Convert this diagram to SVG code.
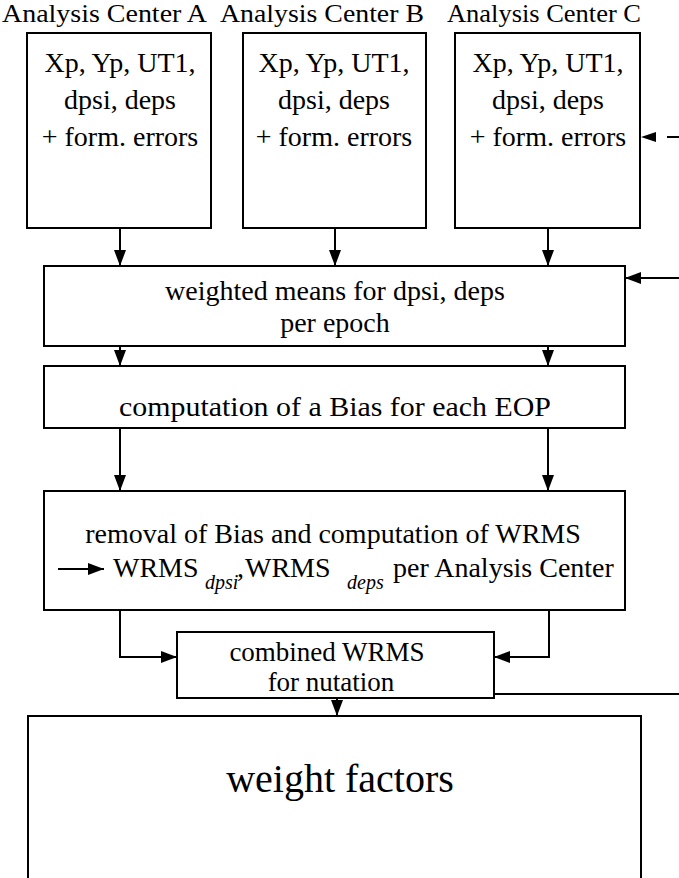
<svg xmlns="http://www.w3.org/2000/svg" width="679" height="878" viewBox="0 0 679 878">
<style>
text{font-family:"Liberation Serif","Times New Roman",serif;fill:#000}
.box{fill:#fff;stroke:#000;stroke-width:2}
.t{font-size:28px;text-anchor:middle}
.title{font-size:25px}
.sub{font-size:20px;font-style:italic}
.ln{fill:none;stroke:#000;stroke-width:2}
</style>
<defs>
<marker id="ah" viewBox="0 0 16 12" refX="16" refY="6" markerWidth="16" markerHeight="12" markerUnits="userSpaceOnUse" orient="auto">
<path d="M0,0 L16,6 L0,12 z" fill="#000"/>
</marker>
</defs>
<rect width="679" height="878" fill="#fff"/>

<g id="acA">
<text class="title" x="2" y="22" textLength="205" lengthAdjust="spacingAndGlyphs">Analysis Center A</text>
<rect class="box" x="27" y="33" width="184" height="195"/>
<text class="t" x="120" y="72">Xp, Yp, UT1,</text>
<text class="t" x="120" y="109">dpsi, deps</text>
<text class="t" x="120" y="146">+ form. errors</text>
</g>
<g id="acB">
<text class="title" x="220" y="22" textLength="204" lengthAdjust="spacingAndGlyphs">Analysis Center B</text>
<rect class="box" x="243" y="33" width="183" height="195"/>
<text class="t" x="334" y="72">Xp, Yp, UT1,</text>
<text class="t" x="334" y="109">dpsi, deps</text>
<text class="t" x="334" y="146">+ form. errors</text>
</g>
<g id="acC">
<text class="title" x="447" y="22" textLength="194" lengthAdjust="spacingAndGlyphs">Analysis Center C</text>
<rect class="box" x="455" y="33" width="185" height="195"/>
<text class="t" x="548" y="72">Xp, Yp, UT1,</text>
<text class="t" x="548" y="109">dpsi, deps</text>
<text class="t" x="548" y="146">+ form. errors</text>
</g>
<g id="weighted">
<rect class="box" x="44" y="266" width="581" height="80"/>
<text class="t" x="335" y="300">weighted means for dpsi, deps</text>
<text class="t" x="335" y="332">per epoch</text>
</g>
<g id="bias">
<rect class="box" x="44" y="366" width="581" height="62"/>
<text class="t" x="335" y="416" textLength="432" lengthAdjust="spacingAndGlyphs">computation of a Bias for each EOP</text>
</g>
<g id="removal">
<rect class="box" x="44" y="491" width="581" height="119"/>
<text class="t" x="333" y="543">removal of Bias and computation of WRMS</text>
<line class="ln" x1="58" y1="569" x2="104" y2="569" marker-end="url(#ah)"/>
<text style="font-size:28px"><tspan x="113" y="577">WRMS</tspan><tspan class="sub" x="205" y="589">dpsi</tspan><tspan x="237" y="577">,</tspan><tspan x="245" y="577">WRMS</tspan><tspan class="sub" x="347" y="589">deps</tspan><tspan x="393" y="577">per Analysis Center</tspan></text>
</g>
<g id="combined">
<rect class="box" x="177" y="632" width="317" height="66"/>
<text class="t" x="327" y="661" style="font-size:27px">combined WRMS</text>
<text class="t" x="331" y="691" style="font-size:27px">for nutation</text>
</g>
<g id="weightfactors">
<path class="ln" d="M28,890 V716 H641 V890"/>
<text x="340" y="792" style="font-size:40px;text-anchor:middle">weight factors</text>
</g>

<g id="connectors">
<line class="ln" x1="120" y1="228" x2="120" y2="266" marker-end="url(#ah)"/>
<line class="ln" x1="335" y1="228" x2="335" y2="266" marker-end="url(#ah)"/>
<line class="ln" x1="548" y1="228" x2="548" y2="266" marker-end="url(#ah)"/>
<line class="ln" x1="120" y1="346" x2="120" y2="366" marker-end="url(#ah)"/>
<line class="ln" x1="548" y1="346" x2="548" y2="366" marker-end="url(#ah)"/>
<line class="ln" x1="120" y1="428" x2="120" y2="491" marker-end="url(#ah)"/>
<line class="ln" x1="548" y1="428" x2="548" y2="491" marker-end="url(#ah)"/>
<path class="ln" d="M120,610 V657 H177" marker-end="url(#ah)"/>
<path class="ln" d="M549,610 V657 H494" marker-end="url(#ah)"/>
<line class="ln" x1="337" y1="698" x2="337" y2="716" marker-end="url(#ah)"/>
<line class="ln" x1="494" y1="694" x2="679" y2="694"/>
<line class="ln" x1="679" y1="278" x2="625" y2="278" marker-end="url(#ah)"/>
<path d="M641,137 L656,132 L656,142 z" fill="#000"/>
<line class="ln" x1="667" y1="137" x2="679" y2="137"/>
</g>
</svg>
